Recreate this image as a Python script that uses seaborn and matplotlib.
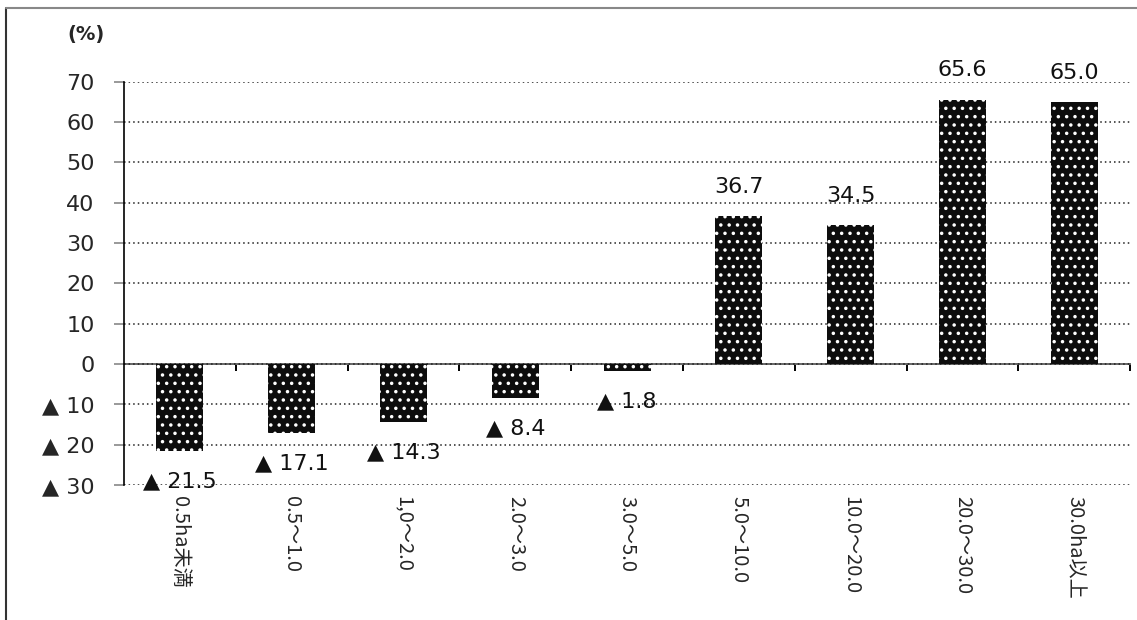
import matplotlib
matplotlib.use("Agg")
import matplotlib.pyplot as plt
import seaborn as sns
import pandas as pd
from matplotlib.lines import Line2D

# Change rate (%) by farm size class
categories = ["0.5ha未満", "0.5～1.0", "1,0～2.0", "2.0～3.0", "3.0～5.0",
              "5.0～10.0", "10.0～20.0", "20.0～30.0", "30.0ha以上"]
values = [-21.5, -17.1, -14.3, -8.4, -1.8, 36.7, 34.5, 65.6, 65.0]
value_labels = ["▲ 21.5", "▲ 17.1", "▲ 14.3", "▲ 8.4", "▲ 1.8",
                "36.7", "34.5", "65.6", "65.0"]
y_ticks = [70, 60, 50, 40, 30, 20, 10, 0, -10, -20, -30]
y_tick_labels = ["70", "60", "50", "40", "30", "20", "10", "0",
                 "▲ 10", "▲ 20", "▲ 30"]

sns.set_style("white")
plt.rcParams["font.family"] = ["DejaVu Sans", "Noto Sans CJK JP"]
plt.rcParams["hatch.linewidth"] = 1.3

df = pd.DataFrame({"size": categories, "rate": values})

fig = plt.figure(figsize=(11.37, 6.2), dpi=100)
ax = fig.add_axes([0.109, 0.218, 0.885, 0.650])

sns.barplot(data=df, x="size", y="rate", ax=ax, width=0.42,
            color="#0d0d0d", saturation=1, edgecolor="white",
            linewidth=0, hatch="..", zorder=3)

ax.set_ylim(-30, 70)
ax.set_xlim(-0.5, len(categories) - 0.5)
ax.set_xlabel("")
ax.set_ylabel("")

# dotted horizontal grid
ax.set_yticks(y_ticks)
ax.set_yticklabels(y_tick_labels, fontsize=16)
ax.yaxis.grid(True, color="#222222", linestyle=(0, (1, 2)), linewidth=1.1)
ax.tick_params(axis="y", length=7, width=1.2, color="#888888", pad=14, left=True)

for side in ["top", "right", "bottom"]:
    ax.spines[side].set_visible(False)
ax.spines["left"].set_color("black")
ax.spines["left"].set_linewidth(1.2)

# category labels, rotated, at the bottom of the plot
ax.set_xticks(range(len(categories)))
ax.set_xticklabels(categories, rotation=-90, fontsize=14.5,
                   family=["Noto Sans CJK JP", "DejaVu Sans"],
                   va="top", ha="center")
ax.tick_params(axis="x", length=0, pad=8)

# zero baseline with ticks between categories
sec = ax.secondary_xaxis(0, transform=ax.transData)
sec.set_xticks([i + 0.5 for i in range(len(categories))])
sec.set_xticklabels([])
sec.tick_params(axis="x", length=5, width=1.4, color="black", direction="out")
sec.spines["bottom"].set_color("#666666")
sec.spines["bottom"].set_linewidth(1.4)

# value labels
for i, (v, lab) in enumerate(zip(values, value_labels)):
    off = 21 if v > 0 else -22
    ax.annotate(lab, xy=(i, v), xytext=(0, off), textcoords="offset points",
                ha="center", va="center", fontsize=16, color="#111111",
                zorder=5)

fig.text(0.076, 0.945, "(%)", fontsize=14, fontweight="bold",
         ha="center", va="center")

# outer frame (top and left edges)
fig.add_artist(Line2D([0.005, 0.005], [0.0, 0.987], transform=fig.transFigure,
                      color="#333333", linewidth=1.5))
fig.add_artist(Line2D([0.005, 1.0], [0.987, 0.987], transform=fig.transFigure,
                      color="#888888", linewidth=1.5))

fig.savefig("out.png", dpi=100)
